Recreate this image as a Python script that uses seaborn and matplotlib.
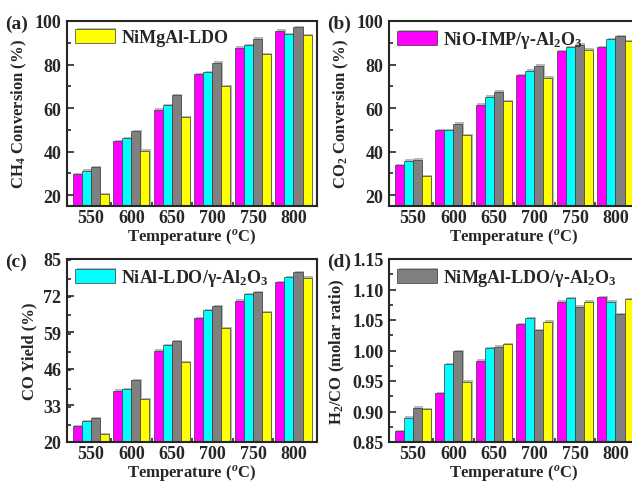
import numpy as np
import pandas as pd
import seaborn as sns
import matplotlib.pyplot as plt
import matplotlib.patheffects as pe
from matplotlib.ticker import MultipleLocator, FixedLocator

temps = ["550", "600", "650", "700", "750", "800"]
catalysts = ["NiO-IMP/γ-Al$_2$O$_3$", "NiAl-LDO/γ-Al$_2$O$_3$",
             "NiMgAl-LDO/γ-Al$_2$O$_3$", "NiMgAl-LDO"]
colors = ["#FF00FF", "#00FFFF", "#808080", "#FFFF00"]

# values per catalyst, in temperature order
ch4_conv = [
    [29.7, 44.9, 59.2, 75.5, 87.8, 95.5],
    [31.2, 46.2, 61.4, 76.5, 88.8, 94.0],
    [32.8, 49.5, 65.8, 80.8, 91.8, 97.2],
    [20.3, 40.5, 55.7, 70.0, 84.8, 93.5],
]
co2_conv = [
    [33.8, 49.7, 61.5, 75.1, 86.2, 88.0],
    [35.8, 49.7, 65.2, 77.1, 88.0, 91.7],
    [36.2, 52.8, 67.5, 79.5, 89.2, 92.9],
    [28.6, 47.4, 63.1, 74.0, 86.8, 90.8],
]
co_yield = [
    [25.6, 38.2, 52.4, 64.0, 70.2, 76.7],
    [27.4, 38.8, 54.4, 66.8, 72.6, 78.5],
    [28.5, 42.0, 55.8, 68.2, 73.3, 80.3],
    [22.7, 35.2, 48.4, 60.5, 66.1, 78.3],
]
h2_co = [
    [0.868, 0.930, 0.983, 1.043, 1.080, 1.087],
    [0.890, 0.978, 1.004, 1.053, 1.086, 1.080],
    [0.906, 0.999, 1.006, 1.033, 1.072, 1.060],
    [0.904, 0.949, 1.010, 1.047, 1.080, 1.084],
]

sns.set_style("ticks")
plt.rcParams['font.family'] = ['Liberation Serif', 'DejaVu Serif']
plt.rcParams['font.weight'] = 'bold'
plt.rcParams['mathtext.fontset'] = 'custom'
plt.rcParams['mathtext.rm'] = 'Liberation Serif:bold'
plt.rcParams['mathtext.it'] = 'Liberation Serif:bold:italic'
plt.rcParams['mathtext.bf'] = 'Liberation Serif:bold'


def long_form(values):
    rows = []
    for cat, vals in zip(catalysts, values):
        for t, v in zip(temps, vals):
            rows.append({"T": t, "val": v, "cat": cat})
    return pd.DataFrame(rows)


panels = [
    # (data, ylabel, ylim, major ticks, minor step, legend index, tag, position)
    (ch4_conv, "CH$_4$ Conversion (%)", (15, 100), [20, 40, 60, 80, 100], 10, 3, "(a)",
     [67, 22, 250, 185]),
    (co2_conv, "CO$_2$ Conversion (%)", (15, 100), [20, 40, 60, 80, 100], 10, 0, "(b)",
     [389, 22, 250, 185]),
    (co_yield, "CO Yield (%)", (20, 85), [20, 33, 46, 59, 72, 85], 6.5, 1, "(c)",
     [67, 260, 250, 183]),
    (h2_co, "H$_2$/CO (molar ratio)", (0.85, 1.15),
     [0.85, 0.90, 0.95, 1.00, 1.05, 1.10, 1.15], 0.025, 2, "(d)",
     [389, 260, 250, 183]),
]

W, H = 632, 485
fig = plt.figure(figsize=(W / 100, H / 100), dpi=100)

for data, ylabel, ylim, yt, minor, leg_i, tag, (px, py, pw, ph) in panels:
    ax = fig.add_axes([px / W, 1 - (py + ph) / H, pw / W, ph / H])
    df = long_form(data)
    sns.barplot(data=df, x="T", y="val", hue="cat", hue_order=catalysts,
                palette=colors, width=0.89, gap=0, edgecolor="#3a3a3a",
                linewidth=0.5, saturation=1, legend=False, ax=ax)
    for cont in ax.containers:
        for bar in cont:
            bar.set_path_effects([pe.SimplePatchShadow(offset=(1, 1), shadow_rgbFace="#9a9a9a", alpha=0.7),
                                  pe.Normal()])
    ax.set_xlim(-0.59, 5.58)
    ax.set_ylim(*ylim)
    ax.set_yticks(yt)
    if ylim[1] < 2:
        ax.set_yticklabels([f"{v:.2f}" for v in yt])
    ax.yaxis.set_minor_locator(MultipleLocator(minor))
    ax.xaxis.set_minor_locator(FixedLocator(np.arange(0.5, 5, 1)))
    ax.tick_params(which="both", direction="in", labelsize=13, width=1.2,
                   top=False, right=False)
    ax.tick_params(which="major", length=5, pad=4)
    ax.tick_params(axis="x", which="major", pad=2.5)
    ax.tick_params(which="minor", length=3)
    for s in ax.spines.values():
        s.set_linewidth(1.5)
    for lab in ax.get_xticklabels() + ax.get_yticklabels():
        lab.set_fontweight("bold")
    ax.set_xlabel("Temperature ($^{o}$C)", fontsize=12, fontweight="bold", labelpad=0)
    ax.set_ylabel(ylabel, fontsize=12, fontweight="bold", labelpad=4)
    handle = ax.containers[leg_i][0]
    ax.legend([handle], [catalysts[leg_i]], loc="upper left", frameon=False,
              handlelength=2.2, handleheight=0.8, handletextpad=0.35,
              borderaxespad=0.15, borderpad=0.3,
              prop={"weight": "bold", "size": 13})
    fig.text((px - 62) / W, 1 - (py + 2) / H, tag, fontsize=14, fontweight="bold",
             ha="left", va="center")

fig.savefig("out.png", dpi=100)
